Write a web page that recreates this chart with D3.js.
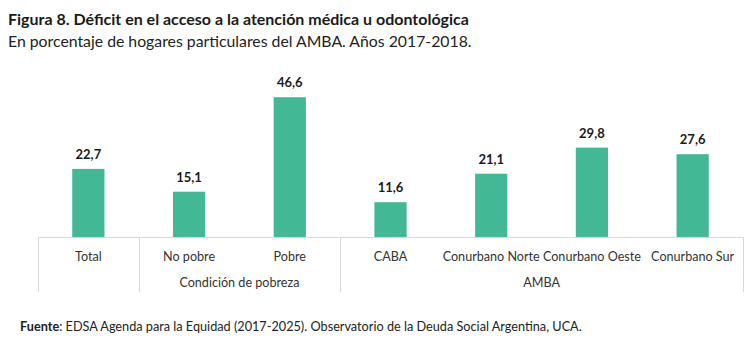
<!doctype html>
<html>
<head>
<meta charset="utf-8">
<script src="https://d3js.org/d3.v7.min.js"></script>
<style>
  body { margin: 0; background: #fff; }
  text { font-family: Lato, "Open Sans", sans-serif; }
</style>
</head>
<body>
<svg id="chart" width="750" height="354"></svg>
<script>
// data
var categories = ["Total", "No pobre", "Pobre", "CABA", "Conurbano Norte", "Conurbano Oeste", "Conurbano Sur"];
var values = [22.7, 15.1, 46.6, 11.6, 21.1, 29.8, 27.6];
var groups = [
  {label: "", from: 0, to: 0},
  {label: "Condición de pobreza", from: 1, to: 2},
  {label: "AMBA", from: 3, to: 6}
];

var svg = d3.select("#chart");
var baseY = 237, bottomY = 292;
var left = 38, right = 743;

var x = d3.scaleBand().domain(categories).range([left, right]).paddingInner(0.68).paddingOuter(0.34);
var y = d3.scaleLinear().domain([0, 50]).range([baseY, baseY - 150]);

// titles
svg.append("text").attr("x", 8).attr("y", 25)
  .attr("font-size", 16).attr("font-weight", "bold").attr("fill", "#1a1a1a")
  .text("Figura 8. Déficit en el acceso a la atención médica u odontológica");
svg.append("text").attr("x", 8).attr("y", 47)
  .attr("font-size", 15.8).attr("fill", "#222")
  .text("En porcentaje de hogares particulares del AMBA. Años 2017-2018.");

// bars
svg.selectAll("rect.bar").data(values).enter().append("rect")
  .attr("class", "bar")
  .attr("x", function(d, i){ return x(categories[i]); })
  .attr("y", function(d){ return y(d); })
  .attr("width", x.bandwidth())
  .attr("height", function(d){ return baseY - y(d); })
  .attr("fill", "#42b994");

svg.selectAll("text.val").data(values).enter().append("text")
  .attr("class", "val")
  .attr("x", function(d, i){ return x(categories[i]) + x.bandwidth() / 2; })
  .attr("y", function(d){ return y(d) - 10; })
  .attr("text-anchor", "middle").attr("font-size", 13).attr("font-weight", "bold").attr("fill", "#1a1a1a")
  .text(function(d){ return d3.format(".1f")(d).replace(".", ","); });

// axis lines
svg.append("line").attr("x1", left).attr("x2", right).attr("y1", baseY + 0.5).attr("y2", baseY + 0.5)
  .attr("stroke", "#d9d9d9");
var seps = [0, 1, 3, 7];
svg.selectAll("line.sep").data(seps).enter().append("line")
  .attr("class", "sep")
  .attr("x1", function(d){ return Math.round(left + (right - left) * d / categories.length) + 0.5; })
  .attr("x2", function(d){ return Math.round(left + (right - left) * d / categories.length) + 0.5; })
  .attr("y1", baseY).attr("y2", bottomY)
  .attr("stroke", "#d9d9d9");

// category labels
svg.selectAll("text.cat").data(categories).enter().append("text")
  .attr("class", "cat")
  .attr("x", function(d){ return x(d) + x.bandwidth() / 2; })
  .attr("y", 261)
  .attr("text-anchor", "middle").attr("font-size", 12.6).attr("fill", "#333")
  .text(function(d){ return d; });

// group labels
svg.selectAll("text.grp").data(groups).enter().append("text")
  .attr("class", "grp")
  .attr("x", function(g){ return (x(categories[g.from]) + x(categories[g.to]) + x.bandwidth()) / 2; })
  .attr("y", 287)
  .attr("text-anchor", "middle").attr("font-size", 12.6).attr("fill", "#333")
  .text(function(g){ return g.label; });

// source
var src = svg.append("text").attr("x", 20).attr("y", 331).attr("font-size", 12.7).attr("fill", "#222");
src.append("tspan").attr("font-weight", "bold").text("Fuente");
src.append("tspan").text(": EDSA Agenda para la Equidad (2017-2025). Observatorio de la Deuda Social Argentina, UCA.");
</script>
</body>
</html>
